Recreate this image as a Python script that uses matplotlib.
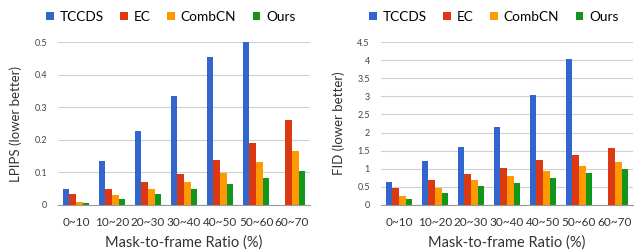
import matplotlib
matplotlib.use("Agg")
import matplotlib.pyplot as plt
import numpy as np

plt.rcParams['font.family'] = ['Lato', 'DejaVu Sans']

# data
cats = ['0~10', '10~20', '20~30', '30~40', '40~50', '50~60', '60~70']
methods = ['TCCDS', 'EC', 'CombCN', 'Ours']
colors = ['#3366CC', '#DC3912', '#FF9900', '#109618']

lpips_tccds = [0.050, 0.134, 0.227, 0.334, 0.453, 0.500, np.nan]
lpips_ec = [0.033, 0.050, 0.072, 0.095, 0.139, 0.189, 0.261]
lpips_combcn = [0.009, 0.030, 0.050, 0.070, 0.098, 0.132, 0.166]
lpips_ours = [0.006, 0.019, 0.035, 0.048, 0.065, 0.084, 0.103]

fid_tccds = [0.63, 1.21, 1.59, 2.16, 3.03, 4.03, np.nan]
fid_ec = [0.47, 0.68, 0.86, 1.01, 1.23, 1.38, 1.57]
fid_combcn = [0.25, 0.47, 0.68, 0.79, 0.93, 1.07, 1.18]
fid_ours = [0.16, 0.33, 0.52, 0.61, 0.75, 0.88, 1.00]

fig = plt.figure(figsize=(6.37, 2.52), dpi=100, facecolor='white')


def draw(ax, series, ymax, ystep, ylabel, leg_x):
    x = np.arange(len(cats))
    w = 0.185
    for i, (vals, c, name) in enumerate(zip(series, colors, methods)):
        ax.bar(x + (i - 1.5) * w, vals, width=w, color=c, label=name, zorder=3)
    ax.set_xlim(-0.5, len(cats) - 0.5)
    ax.set_ylim(0, ymax)
    ticks = np.arange(0, ymax + ystep / 2, ystep)
    ax.set_yticks(ticks)
    ax.set_yticklabels(['{:g}'.format(round(t, 2)) for t in ticks], fontsize=6.5, color='#444444')
    ax.set_xticks(x)
    ax.set_xticklabels(cats, fontsize=8.5, color='#333333')
    ax.tick_params(axis='both', length=0, pad=8)
    ax.tick_params(axis='x', pad=9)
    ax.grid(axis='y', color='#d0d0d0', lw=0.8, zorder=0)
    for s in ['top', 'right', 'left']:
        ax.spines[s].set_visible(False)
    ax.spines['bottom'].set_color('#999999')
    ax.set_xlabel('Mask-to-frame Ratio (%)', fontsize=10.5, color='#333333', labelpad=5)
    ax.set_ylabel(ylabel, fontsize=9.5, color='#333333', labelpad=9)
    fig.legend(*ax.get_legend_handles_labels(), loc='center', ncol=4,
               bbox_to_anchor=(leg_x, 1 - 17 / 252), frameon=False, fontsize=9.8,
               handlelength=0.55, handleheight=0.55, handletextpad=0.45, columnspacing=1.2)


ax1 = fig.add_axes([58 / 637, 1 - 205 / 252, 252 / 637, 163 / 252])
draw(ax1, [lpips_tccds, lpips_ec, lpips_combcn, lpips_ours], 0.5, 0.1,
     'LPIPS (lower better)', 171 / 637)

ax2 = fig.add_axes([381 / 637, 1 - 205 / 252, 252 / 637, 163 / 252])
draw(ax2, [fid_tccds, fid_ec, fid_combcn, fid_ours], 4.5, 0.5,
     'FID (lower better)', 494 / 637)

fig.savefig('out.png', dpi=100, facecolor='white')
